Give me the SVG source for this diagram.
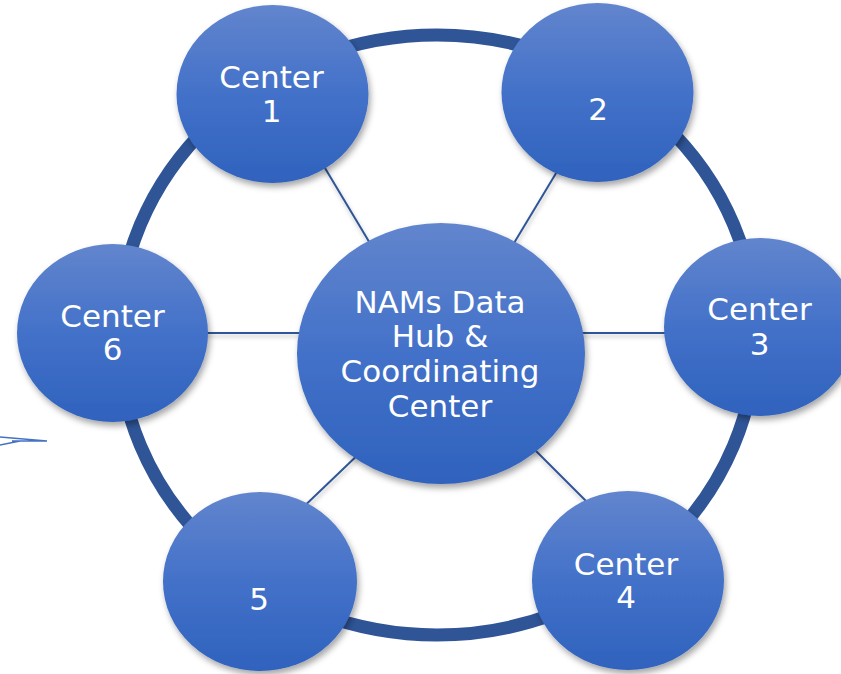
<svg xmlns="http://www.w3.org/2000/svg" width="841" height="674" viewBox="0 0 841 674">
<style>
.node{fill:url(#g);filter:url(#sh)}
.lbl{font-family:"DejaVu Sans","Verdana",sans-serif;font-size:31px;fill:#ffffff;text-anchor:middle}
.spoke{stroke:#2F5597;stroke-width:2;fill:none;filter:url(#lsh)}
</style>
<defs>
<linearGradient id="g" x1="0" y1="0" x2="0" y2="1">
<stop offset="0" stop-color="#6285CD"/>
<stop offset="0.5" stop-color="#4371C9"/>
<stop offset="1" stop-color="#2F62BD"/>
</linearGradient>
<filter id="sh" x="-20%" y="-20%" width="140%" height="140%">
<feDropShadow dx="2" dy="4" stdDeviation="3" flood-color="#000" flood-opacity="0.35"/>
</filter>
<filter id="lsh" filterUnits="userSpaceOnUse" x="0" y="0" width="841" height="674">
<feDropShadow dx="1" dy="3" stdDeviation="2" flood-color="#000" flood-opacity="0.25"/>
</filter>
</defs>
<rect width="841" height="674" fill="#ffffff"/>
<g id="connectors">
<ellipse cx="437" cy="335" rx="319" ry="300" fill="none" stroke="#2F5597" stroke-width="13"/>
<line class="spoke" x1="310" y1="143" x2="380" y2="260"/>
<line class="spoke" x1="570" y1="150" x2="505" y2="258"/>
<line class="spoke" x1="190" y1="333" x2="310" y2="333"/>
<line class="spoke" x1="570" y1="333" x2="690" y2="333"/>
<line class="spoke" x1="365" y1="448" x2="295" y2="515"/>
<line class="spoke" x1="525" y1="440" x2="600" y2="515"/>
<path d="M0,437 L47,441 M0,445 L20,441 M12,441 L47,441" stroke="#4472C4" stroke-width="1.5" fill="none"/>
</g>
<g id="hub">
<ellipse class="node" cx="441" cy="353.5" rx="144" ry="130.5"/>
<text class="lbl" x="440" y="313">NAMs Data</text>
<text class="lbl" x="440" y="347">Hub &amp;</text>
<text class="lbl" x="440" y="382">Coordinating</text>
<text class="lbl" x="440" y="417">Center</text>
</g>
<g id="center1">
<ellipse class="node" cx="272.5" cy="94" rx="96" ry="89"/>
<text class="lbl" x="271.5" y="88">Center</text>
<text class="lbl" x="271.5" y="122">1</text>
</g>
<g id="center2">
<ellipse class="node" cx="597.5" cy="92.5" rx="96" ry="89.5"/>
<text class="lbl" x="598" y="120">2</text>
</g>
<g id="center3">
<ellipse class="node" cx="760" cy="327" rx="96" ry="89"/>
<text class="lbl" x="759.5" y="320">Center</text>
<text class="lbl" x="759.5" y="355">3</text>
</g>
<g id="center4">
<ellipse class="node" cx="628" cy="580.5" rx="96" ry="89.5"/>
<text class="lbl" x="626" y="575">Center</text>
<text class="lbl" x="626" y="608">4</text>
</g>
<g id="center5">
<ellipse class="node" cx="260" cy="581.5" rx="97" ry="89.5"/>
<text class="lbl" x="259" y="610">5</text>
</g>
<g id="center6">
<ellipse class="node" cx="112.5" cy="333" rx="95.5" ry="89"/>
<text class="lbl" x="112.5" y="327">Center</text>
<text class="lbl" x="112.5" y="360">6</text>
</g>
</svg>
